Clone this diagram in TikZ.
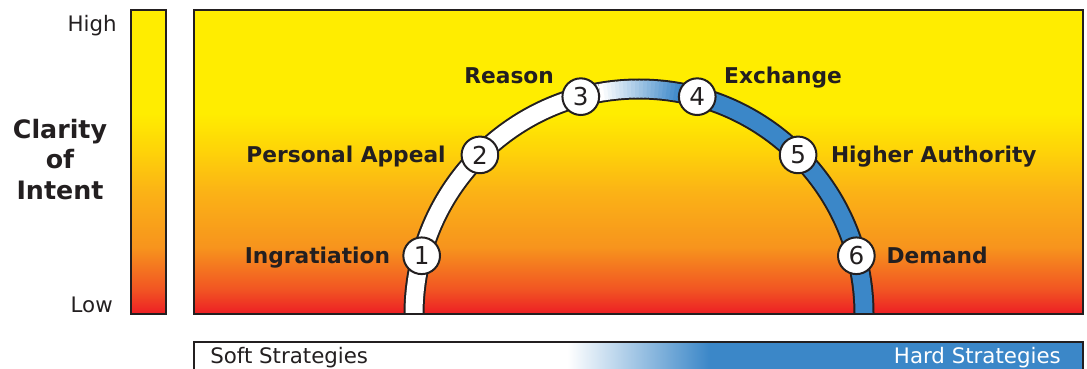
\documentclass[tikz,border=0pt]{standalone}
\usepackage{fontspec}
\setmainfont{DejaVu Sans}
\usetikzlibrary{positioning}

\definecolor{ink}{RGB}{35,31,32}
\definecolor{hardblue}{RGB}{59,135,200}
\definecolor{heatred}{RGB}{237,30,36}
\definecolor{heatember}{RGB}{241,84,35}
\definecolor{heatorange}{RGB}{247,148,29}
\definecolor{heatamber}{RGB}{251,178,22}
\definecolor{heatgold}{RGB}{254,212,8}
\definecolor{heatyellow}{RGB}{255,237,0}

\pgfdeclareverticalshading{clarity}{100bp}{color(0bp)=(heatred); color(25bp)=(heatred);
  color(29bp)=(heatember); color(36bp)=(heatorange); color(45bp)=(heatamber);
  color(52bp)=(heatgold); color(58bp)=(heatyellow); color(100bp)=(heatyellow)}
\pgfdeclarehorizontalshading{strategy}{100bp}{color(0bp)=(white); color(46bp)=(white);
  color(54bp)=(hardblue); color(100bp)=(hardblue)}

\begin{document}
\begin{tikzpicture}[x=0.75pt, y=0.75pt,
    frame/.style={draw=ink, line width=1.5pt},
    num/.style={circle, draw=ink, line width=1.5pt, fill=white, minimum size=27.5pt,
      inner sep=0pt, font=\fontsize{18.5}{20}\selectfont, text=ink},
    lab/.style={font=\fontsize{16.3}{19}\selectfont\bfseries, text=ink, inner sep=0pt,
      text height=11.9pt, text depth=0pt},
    tick/.style={font=\fontsize{16}{19}\selectfont, text=ink, inner sep=0pt,
      text height=11.7pt, text depth=0pt},
    rim/.style={line width=15.75pt, ink},
    band/.style={line width=12.75pt}
  ]
  \useasboundingbox (0,0) rectangle (1087,368);
  \clip (0,0) rectangle (1087,368);

  % scale on the left
  \shade[shading=clarity] (131,54) rectangle (166,358);
  \draw[frame] (131,54) rectangle (166,358);
  \node[tick, anchor=east] (high) at (117,344) {High};
  \node[tick, anchor=east] (low) at (113,63) {Low};
  \node[font=\fontsize{19}{23}\selectfont\bfseries, text=ink, align=center, inner sep=0pt]
    (clarity) at (60,208.5) {Clarity\\of\\Intent};

  % main panel with the arc
  \shade[shading=clarity] (194,54) rectangle (1083,358);
  \begin{scope}[shift={(639,54)}]
    \draw[rim] (180:225) arc (180:0:225);
    \draw[band, white] (180:225) arc (180:100:225);
    \foreach \a in {100,99,...,80}{
      \pgfmathtruncatemacro{\p}{(100-\a)*5}
      \draw[band, hardblue!\p!white] (\a:225) arc (\a:\a-1.3:225);
    }
    \draw[band, hardblue] (80:225) arc (80:0:225);
    \foreach \i/\a in {1/165,2/135,3/105,4/75,5/45,6/15}
      \node[num] (s\i) at (\a:225) {\i};
  \end{scope}
  \draw[frame] (194,54) rectangle (1083,358);

  \node[lab, left=9pt of s1] (ingr) {Ingratiation};
  \node[lab, left=11pt of s2] (appeal) {Personal Appeal};
  \node[lab, anchor=east] (reason) at ([xshift=-20pt, yshift=16pt]s3.center) {Reason};
  \node[lab, anchor=west] (exch) at ([xshift=20pt, yshift=16pt]s4.center) {Exchange};
  \node[lab, right=10pt of s5] (higher) {Higher Authority};
  \node[lab, right=8pt of s6] (demand) {Demand};

  % soft / hard bar
  \shade[shading=strategy] (194,-10) rectangle (1083,26);
  \draw[frame] (194,-10) rectangle (1083,26);
  \node[tick, anchor=west] (soft) at (210,12) {Soft Strategies};
  \node[tick, anchor=east, text=white] (hard) at (1061,12) {Hard Strategies};
\end{tikzpicture}
\end{document}
